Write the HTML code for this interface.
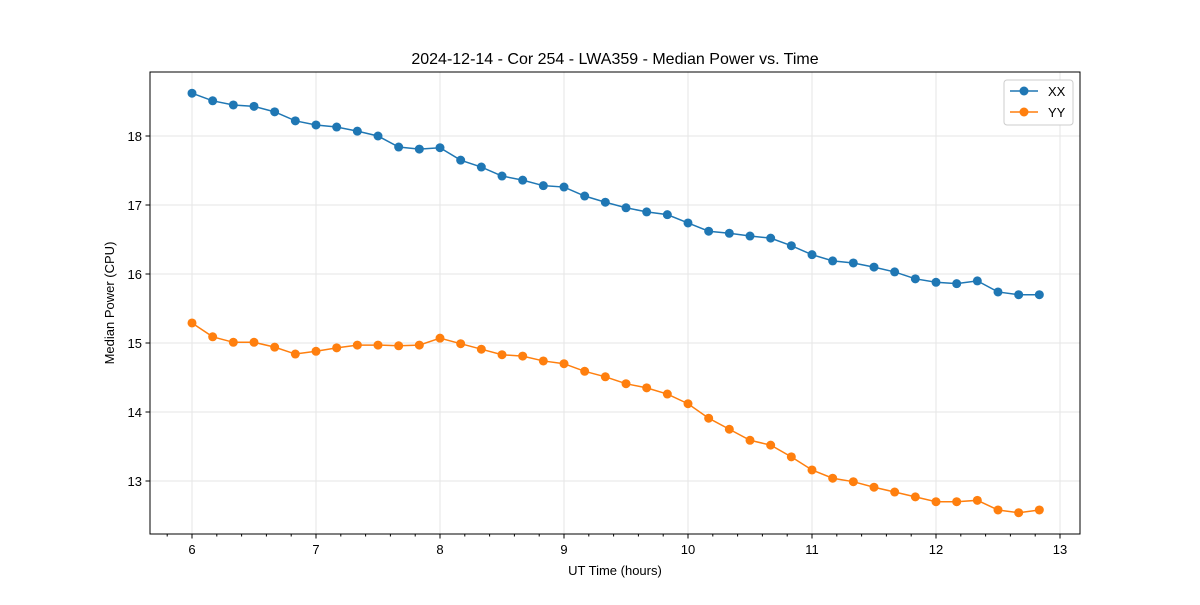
<!DOCTYPE html>
<html><head><meta charset="utf-8"><style>
body{margin:0;background:#fff;}
svg text{font-family:"Liberation Sans","DejaVu Sans",sans-serif;fill:#000;}
</style></head><body>
<svg id="chart" width="1200" height="600" xmlns="http://www.w3.org/2000/svg">
<rect width="1200" height="600" fill="#fff"/>
<text x="615" y="64" font-size="16" text-anchor="middle">2024-12-14 - Cor 254 - LWA359 - Median Power vs. Time</text>
<g id="grid"></g><g id="axes"></g><g id="series"></g>
<rect x="150" y="72" width="930" height="462" fill="none" stroke="#000" stroke-width="1"/>
<text x="615" y="575" font-size="13" text-anchor="middle">UT Time (hours)</text>
<text x="114" y="303" font-size="13" text-anchor="middle" transform="rotate(-90 114 303)">Median Power (CPU)</text>
<g>
<rect x="1004" y="80" width="69" height="45" rx="3" fill="#fff" stroke="#ccc"/>
<g><line x1="1010" y1="91" x2="1038" y2="91" stroke="#1f77b4" stroke-width="1.5"/><circle cx="1024" cy="91" r="4.5" fill="#1f77b4"/><text x="1048" y="96" font-size="13">XX</text></g>
<g><line x1="1010" y1="112" x2="1038" y2="112" stroke="#ff7f0e" stroke-width="1.5"/><circle cx="1024" cy="112" r="4.5" fill="#ff7f0e"/><text x="1048" y="117" font-size="13">YY</text></g>
</g>
</svg>
<script>
const xx = [18.62,18.51,18.45,18.43,18.35,18.22,18.16,18.13,18.07,18.0,17.84,17.81,17.83,17.65,17.55,17.42,17.36,17.28,17.26,17.13,17.04,16.96,16.90,16.86,16.74,16.62,16.59,16.55,16.52,16.41,16.28,16.19,16.16,16.10,16.03,15.93,15.88,15.86,15.90,15.74,15.70,15.70];
const yy = [15.29,15.09,15.01,15.01,14.94,14.84,14.88,14.93,14.97,14.97,14.96,14.97,15.07,14.99,14.91,14.83,14.81,14.74,14.70,14.59,14.51,14.41,14.35,14.26,14.12,13.91,13.75,13.59,13.52,13.35,13.16,13.04,12.99,12.91,12.84,12.77,12.70,12.70,12.72,12.58,12.54,12.58];
const xTicks = [6,7,8,9,10,11,12,13];
const yTicks = [13,14,15,16,17,18];
const startHour = 6, stepHour = 1/6;
const NS="http://www.w3.org/2000/svg";
const X = v => 192 + (v-6)*124;
const Y = v => 136 - (v-18)*69;
function mk(tag, attrs, parent){const e=document.createElementNS(NS,tag);for(const k in attrs)e.setAttribute(k,attrs[k]);parent.appendChild(e);return e;}
const grid=document.getElementById('grid'), axes=document.getElementById('axes'), ser=document.getElementById('series');
xTicks.forEach(t=>{
  const g=mk('line',{x1:X(t),x2:X(t),y1:72,y2:534,stroke:'#e6e6e6','stroke-width':1},grid);
  
  
  const tk=mk('line',{x1:X(t),x2:X(t),y1:534,y2:538.5,stroke:'#000'},axes);
  
  
  const tx=mk('text',{x:X(t),y:554,'font-size':13,'text-anchor':'middle'},axes);tx.textContent=t;
  
  
});
for(let m=5.8;m<13.15;m+=0.2){
  if(Math.abs(m-Math.round(m))<0.01) continue;
  const px=X(m); if(px<150||px>1080) continue;
  const mt=mk('line',{x1:px,x2:px,y1:534,y2:536.5,stroke:'#000'},axes);
  
  
}
yTicks.forEach(t=>{
  const g=mk('line',{x1:150,x2:1080,y1:Y(t),y2:Y(t),stroke:'#e6e6e6','stroke-width':1},grid);
  
  
  const tk=mk('line',{x1:145.5,x2:150,y1:Y(t),y2:Y(t),stroke:'#000'},axes);
  
  
  const tx=mk('text',{x:142,y:Y(t)+5,'font-size':13,'text-anchor':'end'},axes);tx.textContent=t;
  
  
});
function draw(vals,color,name){
  const pts=vals.map((v,i)=>[X(startHour+i*stepHour),Y(v)]);
  const pl=mk('polyline',{points:pts.map(p=>p.join(',')).join(' '),fill:'none',stroke:color,'stroke-width':1.5},ser);
  
  
  pts.forEach(p=>{
    const c=mk('circle',{cx:p[0],cy:p[1],r:4.5,fill:color},ser);
    
    
  });
}
draw(xx,'#1f77b4','xx');
draw(yy,'#ff7f0e','yy');
</script>
</body></html>
